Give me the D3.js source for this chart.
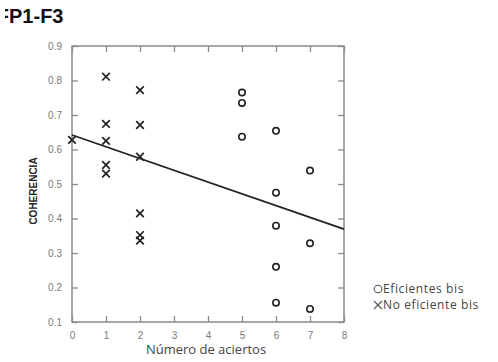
<!DOCTYPE html>
<html>
<head>
<meta charset="utf-8">
<script src="https://cdn.jsdelivr.net/npm/d3@7/dist/d3.min.js"></script>
<style>
  html, body { margin: 0; padding: 0; background: #fff; }
  svg { display: block; }
</style>
</head>
<body>
<svg id="chart" width="498" height="362"></svg>
<script>
// Scatter of coherence vs. number of correct answers, two groups plus a fitted line.
const title = "FP1-F3";
const xLabel = "Número de aciertos";
const yLabel = "COHERENCIA";

// Group "Eficientes bis" (circles)
const eficientesX = [5, 5, 5, 6, 6, 6, 6, 6, 7, 7, 7];
const eficientesY = [0.765, 0.735, 0.637, 0.654, 0.475, 0.379, 0.26, 0.156, 0.539, 0.328, 0.138];

// Group "No eficiente bis" (crosses)
const noEficienteX = [0, 1, 1, 1, 1, 1, 2, 2, 2, 2, 2, 2];
const noEficienteY = [0.628, 0.811, 0.674, 0.625, 0.555, 0.53, 0.772, 0.671, 0.579, 0.415, 0.352, 0.336];

// Linear fit drawn across the full x range
const fitIntercept = 0.642;
const fitSlope = -0.0341;

const xTicks = [0, 1, 2, 3, 4, 5, 6, 7, 8];
const yTicks = [0.1, 0.2, 0.3, 0.4, 0.5, 0.6, 0.7, 0.8, 0.9];
const legendLabels = ["Eficientes bis", "No eficiente bis"];

const svg = d3.select("#chart");
const plot = { left: 72, top: 46, right: 344, bottom: 322 };

const x = d3.scaleLinear().domain([0, 8]).range([plot.left, plot.right]);
const y = d3.scaleLinear().domain([0.1, 0.9]).range([plot.bottom, plot.top]);

// Title (its first letter runs off the left edge)
svg.append("clipPath").attr("id", "titleClip")
  .append("rect").attr("x", 5).attr("y", 0).attr("width", 200).attr("height", 40);
svg.append("text")
  .attr("clip-path", "url(#titleClip)")
  .attr("x", -3.2).attr("y", 23)
  .attr("font-family", "Liberation Sans, Arial, sans-serif")
  .attr("font-weight", "bold").attr("font-size", 20)
  .attr("fill", "#111")
  .text(title);

const axisColor = "#8a8a8a";
const tickLen = 6;

function styleAxis(g) {
  g.selectAll(".domain").remove();
  g.selectAll(".tick line").attr("stroke", axisColor).attr("stroke-width", 1.3);
  g.selectAll(".tick text")
    .attr("fill", "#7a7a7a")
    .attr("font-family", "Liberation Sans, Arial, sans-serif")
    .attr("font-size", 10);
}

// Bottom and left axes with inward ticks
svg.append("g")
  .attr("transform", `translate(0,${plot.bottom})`)
  .call(d3.axisBottom(x).tickValues(xTicks).tickFormat(d3.format("d"))
    .tickSizeInner(-tickLen).tickSizeOuter(0).tickPadding(10))
  .call(styleAxis);

svg.append("g")
  .attr("transform", `translate(${plot.left},0)`)
  .call(d3.axisLeft(y).tickValues(yTicks).tickFormat(d3.format(".1f"))
    .tickSizeInner(-tickLen).tickSizeOuter(0).tickPadding(10))
  .call(styleAxis);

// Mirrored ticks on top and right, no labels
svg.append("g")
  .attr("transform", `translate(0,${plot.top})`)
  .call(d3.axisTop(x).tickValues(xTicks).tickFormat("")
    .tickSizeInner(-tickLen).tickSizeOuter(0))
  .call(styleAxis);

svg.append("g")
  .attr("transform", `translate(${plot.right},0)`)
  .call(d3.axisRight(y).tickValues(yTicks).tickFormat("")
    .tickSizeInner(-tickLen).tickSizeOuter(0))
  .call(styleAxis);

// Plot frame
svg.append("rect")
  .attr("x", plot.left).attr("y", plot.top)
  .attr("width", plot.right - plot.left).attr("height", plot.bottom - plot.top)
  .attr("fill", "none").attr("stroke", axisColor).attr("stroke-width", 1.5);

// Fitted line
const xDomain = x.domain();
svg.append("line")
  .attr("x1", x(xDomain[0])).attr("y1", y(fitIntercept + fitSlope * xDomain[0]))
  .attr("x2", x(xDomain[1])).attr("y2", y(fitIntercept + fitSlope * xDomain[1]))
  .attr("stroke", "#222").attr("stroke-width", 1.8);

const markColor = "#222";

// Circles
svg.append("g").selectAll("circle")
  .data(eficientesX.map((v, i) => [v, eficientesY[i]]))
  .join("circle")
  .attr("cx", d => x(d[0])).attr("cy", d => y(d[1]))
  .attr("r", 3.2)
  .attr("fill", "none").attr("stroke", markColor).attr("stroke-width", 1.6);

// Crosses
const crossPath = s => `M${-s},${-s}L${s},${s}M${-s},${s}L${s},${-s}`;
svg.append("g").selectAll("path")
  .data(noEficienteX.map((v, i) => [v, noEficienteY[i]]))
  .join("path")
  .attr("transform", d => `translate(${x(d[0])},${y(d[1])})`)
  .attr("d", crossPath(3.8))
  .attr("fill", "none").attr("stroke", markColor).attr("stroke-width", 1.7);

// Axis titles
svg.append("text")
  .attr("x", (plot.left + plot.right) / 2 - 2).attr("y", 354)
  .attr("text-anchor", "middle")
  .attr("font-family", "'Open Sans', sans-serif")
  .attr("font-size", 13).attr("fill", "#444")
  .text(xLabel);

svg.append("text")
  .attr("transform", "translate(37,191) rotate(-90)")
  .attr("text-anchor", "middle")
  .attr("font-family", "Liberation Sans, Arial, sans-serif")
  .attr("font-weight", "bold").attr("font-size", 10).attr("fill", "#222")
  .text(yLabel);

// Legend
const legend = svg.append("g").attr("font-family", "'Open Sans', sans-serif")
  .attr("font-size", 12).attr("letter-spacing", "0.6px").attr("fill", "#444");
const legendY = [289, 305];
legend.append("circle")
  .attr("cx", 378).attr("cy", legendY[0]).attr("r", 3.8)
  .attr("fill", "none").attr("stroke", "#555").attr("stroke-width", 1.1);
legend.append("path")
  .attr("transform", `translate(378,${legendY[1]})`)
  .attr("d", crossPath(4))
  .attr("fill", "none").attr("stroke", "#555").attr("stroke-width", 1.1);
legendLabels.forEach((t, i) => {
  legend.append("text")
    .attr("x", 383).attr("y", legendY[i]).attr("dy", "0.35em")
    .text(t);
});
</script>
</body>
</html>
